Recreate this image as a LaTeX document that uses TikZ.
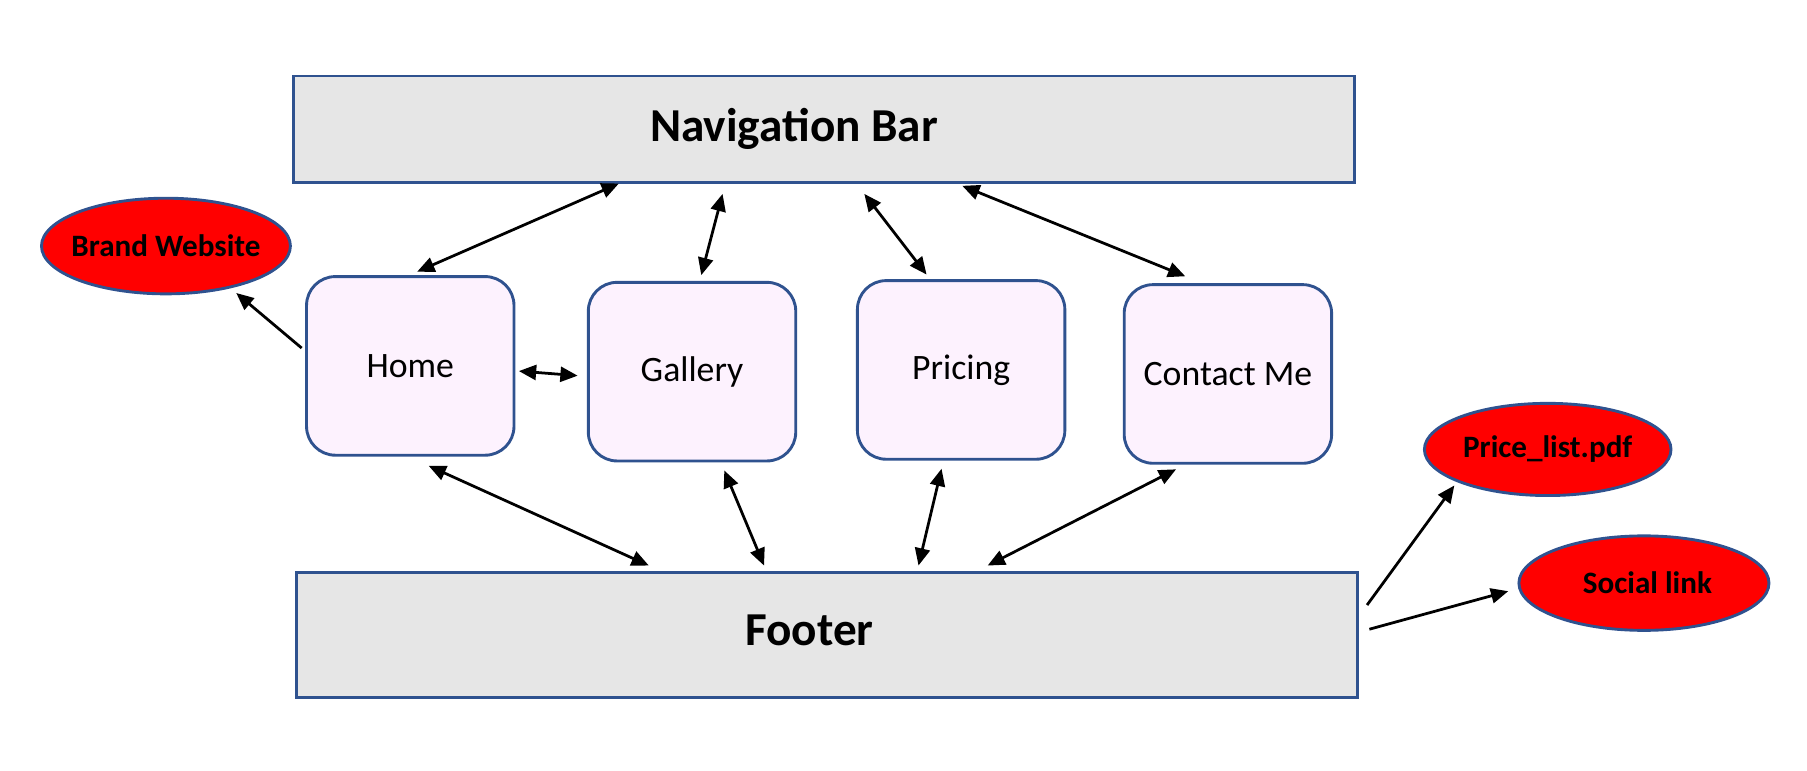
\documentclass[tikz,border=0pt]{standalone}
\usepackage{fontspec}
\setmainfont{Carlito}
\usetikzlibrary{positioning,shapes.geometric,arrows.meta}
\definecolor{edgeblue}{HTML}{2F528F}
\definecolor{barfill}{HTML}{E6E6E6}
\definecolor{pagefill}{HTML}{FDF2FE}
\definecolor{linkred}{HTML}{FF0000}
\begin{document}
\begin{tikzpicture}[x=1pt, y=1pt, auto,
		bar/.style={draw=edgeblue, line width=2.5pt, fill=barfill, minimum width=920pt, inner sep=0pt, font=\fontsize{41}{48}\selectfont\bfseries},
		page/.style={draw=edgeblue, line width=2.5pt, fill=pagefill, rounded corners=25pt, minimum width=180pt, minimum height=155pt, inner sep=0pt, font=\fontsize{31}{36}\selectfont},
		link/.style={ellipse, draw=edgeblue, line width=2.5pt, fill=linkred, minimum width=215pt, minimum height=82pt, inner sep=0pt, font=\fontsize{27}{32}\selectfont\bfseries},
		both/.style={{Triangle[length=15pt,width=13pt]}-{Triangle[length=15pt,width=13pt]}, line width=2.4pt},
		one/.style={-{Triangle[length=15pt,width=13pt]}, line width=2.4pt}]
			\useasboundingbox (0,0) rectangle (1568,669);
			\node (nav) [bar, minimum height=92pt] at (715,557) {\raisebox{-5pt}{Navigation Bar}\hspace*{52pt}};
			\node (home) [page] at (356,351.5) {Home};
			\node (gallery) [page, right=62pt of home, yshift=-5pt] {Gallery};
			\node (pricing) [page, right=51pt of gallery, yshift=1.5pt] {\raisebox{-2pt}{Pricing}};
			\node (contact) [page, right=49pt of pricing, yshift=-3.5pt] {Contact Me};
			\node (footer) [bar, minimum height=108pt, minimum width=921pt] at (717.5,118) {\raisebox{8pt}{Footer}\hspace*{30pt}};
			\node (brand) [link, minimum width=216pt, minimum height=83pt] at (144,455.5) {\makebox[0pt]{Brand Website}};
			\node (price) [link, minimum width=214pt, minimum height=80pt] at (1343,279) {\makebox[0pt]{Price\_list.pdf}};
			\node (social) [link, minimum width=217pt] at (1426.5,163) {\makebox[0pt]{\hspace{6pt}Social link}};
			
			\draw [both] ([xshift=-178pt]nav.south) -- ([xshift=6pt,yshift=3pt]home.north);
			\draw [both] ([xshift=-88pt,yshift=-9pt]nav.south) -- ([xshift=8pt,yshift=5pt]gallery.north);
			\draw [both] ([xshift=35pt,yshift=-9pt]nav.south) -- ([xshift=-30pt,yshift=4pt]pricing.north);
			\draw [both] ([xshift=120pt,yshift=-2pt]nav.south) -- ([xshift=-37pt,yshift=6pt]contact.north);
			\draw [both] ([xshift=3pt,yshift=-4.5pt]home.east) -- ([xshift=-8pt,yshift=-3.5pt]gallery.west);
			\draw [one] ([xshift=-3pt,yshift=15.5pt]home.west) -- ([xshift=61pt,yshift=2pt]brand.south);
			\draw [both] ([xshift=16pt,yshift=-8pt]home.south) -- ([xshift=-154.5pt,yshift=5pt]footer.north);
			\draw [both] ([xshift=28pt,yshift=-7pt]gallery.south) -- ([xshift=-54.5pt,yshift=5pt]footer.north);
			\draw [both] ([xshift=-17pt,yshift=-7pt]pricing.south) -- ([xshift=79.5pt,yshift=5pt]footer.north);
			\draw [both] ([xshift=-45pt,yshift=-4pt]contact.south) -- ([xshift=139.5pt,yshift=5pt]footer.north);
			\draw [one] ([xshift=7pt,yshift=26pt]footer.east) -- ([xshift=-81pt,yshift=10pt]price.south);
			\draw [one] ([xshift=9pt,yshift=5pt]footer.east) -- ([xshift=-8pt,yshift=-7pt]social.west);
		\end{tikzpicture}
\end{document}
